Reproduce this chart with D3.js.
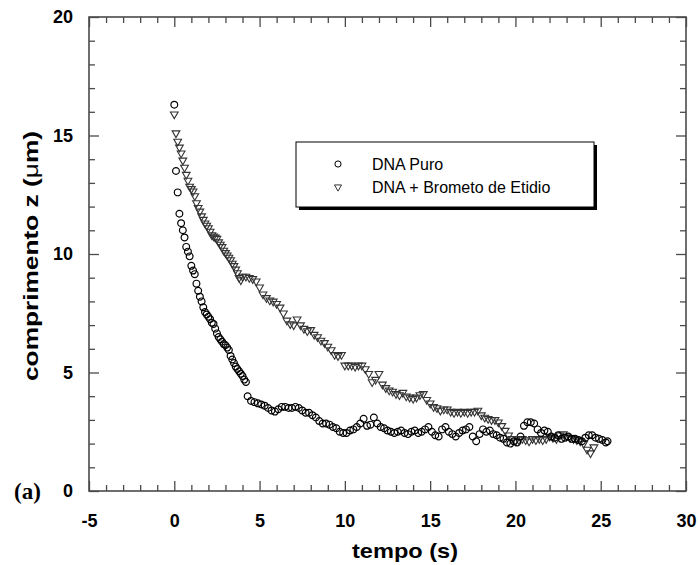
<!DOCTYPE html>
<html>
<head>
<meta charset="utf-8">
<script src="https://cdn.jsdelivr.net/npm/d3@7.9.0/dist/d3.min.js"></script>
<style>
  body { margin: 0; background: #fff; }
  svg { display: block; }
  .tick text { font-family: "Liberation Sans", Arial, sans-serif; font-weight: bold; font-size: 18px; fill: #000; }
  .title { font-family: "Liberation Sans", Arial, sans-serif; font-weight: bold; font-size: 21px; fill: #000; }
  .legend text { font-family: "Liberation Sans", Arial, sans-serif; font-size: 16px; fill: #000; }
</style>
</head>
<body>
<svg id="chart" width="698" height="565"></svg>
<script>
// DNA Puro (circles)
const puroTime = [
  0.0, 0.1, 0.2, 0.3, 0.4, 0.5, 0.6, 0.7, 0.8, 0.9,
  1.0, 1.1, 1.2, 1.3, 1.4, 1.5, 1.6, 1.7, 1.8, 1.9,
  2.0, 2.1, 2.2, 2.3, 2.4, 2.5, 2.6, 2.7, 2.8, 2.9,
  3.0, 3.1, 3.2, 3.3, 3.4, 3.5, 3.6, 3.7, 3.8, 3.9,
  4.0, 4.1, 4.2, 4.3,
  4.5, 4.7, 4.9, 5.1, 5.3, 5.5, 5.7, 5.9, 6.1, 6.3,
  6.5, 6.7, 6.9, 7.1, 7.3, 7.5, 7.7, 7.9, 8.1, 8.3,
  8.5, 8.7, 8.9, 9.1, 9.3, 9.5, 9.7, 9.9, 10.1, 10.3,
  10.5, 10.7, 10.9, 11.1, 11.3, 11.5, 11.7, 11.9, 12.1, 12.3,
  12.5, 12.7, 12.9, 13.1, 13.3, 13.5, 13.7, 13.9, 14.1, 14.3,
  14.5, 14.7, 14.9, 15.1, 15.3, 15.5, 15.7, 15.9, 16.1, 16.3,
  16.5, 16.7, 16.9, 17.1, 17.3, 17.5, 17.7, 17.9, 18.1, 18.3,
  18.5, 18.7, 18.9, 19.1, 19.3, 19.5, 19.7, 19.9, 20.1, 20.3,
  20.5, 20.7, 20.9, 21.1, 21.3, 21.5, 21.7, 21.9, 22.1, 22.3,
  22.5, 22.7, 22.9, 23.1, 23.3, 23.5, 23.7, 23.9, 24.1, 24.3,
  24.5, 24.7, 24.9, 25.1, 25.3, 25.4
];
const puroZ = [
  16.3, 13.5, 12.6, 11.7, 11.3, 11.0, 10.7, 10.3, 10.1, 9.9,
  9.5, 9.3, 9.15, 8.75, 8.45, 8.2, 8.0, 7.75, 7.55, 7.45,
  7.35, 7.25, 7.1, 7.05, 6.85, 6.65, 6.5, 6.4, 6.3, 6.2,
  6.15, 6.05, 5.95, 5.7, 5.55, 5.4, 5.25, 5.15, 5.05, 4.95,
  4.85, 4.7, 4.6, 4.0,
  3.8, 3.75, 3.7, 3.65, 3.6, 3.5, 3.4, 3.35, 3.45, 3.55,
  3.55, 3.5, 3.5, 3.55, 3.5, 3.4, 3.3, 3.3, 3.2, 3.1,
  2.95, 2.85, 2.85, 2.8, 2.7, 2.65, 2.5, 2.45, 2.45, 2.55,
  2.6, 2.7, 2.85, 3.05, 2.75, 2.8, 3.1, 2.85, 2.7, 2.65,
  2.55, 2.5, 2.45, 2.5, 2.55, 2.45, 2.4, 2.5, 2.55, 2.45,
  2.5, 2.6, 2.7, 2.5, 2.35, 2.3, 2.6, 2.7, 2.5, 2.4,
  2.3, 2.45, 2.55, 2.6, 2.7, 2.3, 2.1, 2.4, 2.6, 2.5,
  2.55, 2.4, 2.35, 2.25, 2.2, 2.05, 2.0, 2.1, 2.05, 2.3,
  2.75, 2.9, 2.9, 2.85, 2.6, 2.45, 2.55, 2.5, 2.3, 2.25,
  2.35, 2.2, 2.25, 2.3, 2.2, 2.2, 2.15, 2.1, 2.25, 2.35,
  2.35, 2.25, 2.2, 2.15, 2.05, 2.1
];

// DNA + Brometo de Etidio (triangles)
const etidioTime = [
  0.0, 0.1, 0.2, 0.3, 0.4, 0.5, 0.6, 0.7, 0.8, 0.9,
  1.0, 1.1, 1.2, 1.3, 1.4, 1.5, 1.6, 1.7, 1.8, 1.9,
  2.0, 2.1, 2.2, 2.3, 2.4, 2.5, 2.6, 2.7, 2.8, 2.9,
  3.0, 3.1, 3.2, 3.3, 3.4, 3.5, 3.6, 3.7, 3.8, 3.9,
  4.0, 4.2, 4.4, 4.6, 4.8, 5.0, 5.2, 5.4, 5.6, 5.8,
  6.0, 6.2, 6.4, 6.6, 6.8, 7.0, 7.2, 7.4, 7.6, 7.8,
  8.0, 8.2, 8.4, 8.6, 8.8, 9.0, 9.2, 9.4, 9.6, 9.8,
  10.0, 10.2, 10.4, 10.6, 10.8, 11.0, 11.2, 11.4, 11.6, 11.8,
  12.0, 12.2, 12.4, 12.6, 12.8, 13.0, 13.2, 13.4, 13.6, 13.8,
  14.0, 14.2, 14.4, 14.6, 14.8, 15.0, 15.2, 15.4, 15.6, 15.8,
  16.0, 16.2, 16.4, 16.6, 16.8, 17.0, 17.2, 17.4, 17.6, 17.8,
  18.0, 18.2, 18.4, 18.6, 18.8, 19.0, 19.2, 19.4, 19.6, 19.8,
  20.0, 20.2, 20.4, 20.6, 20.8, 21.0, 21.2, 21.4, 21.6, 21.8,
  22.0, 22.2, 22.4, 22.6, 22.8, 23.0, 23.2, 23.4, 23.6, 23.8,
  24.0, 24.2, 24.4, 24.6
];
const etidioZ = [
  15.9, 15.1, 14.75, 14.5, 14.25, 13.95, 13.65, 13.35, 13.1, 12.85,
  12.75, 12.65, 12.45, 12.15, 11.95, 11.8, 11.6, 11.45, 11.3, 11.2,
  11.1, 10.95, 10.8, 10.75, 10.7, 10.65, 10.5, 10.4, 10.3, 10.15,
  10.05, 9.95, 9.85, 9.75, 9.6, 9.5, 9.35, 9.2, 9.0, 8.9,
  9.05, 9.05, 9.0, 8.95, 8.85, 8.6, 8.3, 8.15, 8.05, 8.0,
  7.9, 7.75, 7.5, 7.2, 7.05, 7.0, 7.25, 7.0, 6.85, 6.75,
  6.8, 6.6, 6.5, 6.35, 6.25, 6.1, 5.95, 5.75, 5.7, 5.75,
  5.3, 5.3, 5.3, 5.25, 5.3, 5.3, 5.15, 4.95, 4.6, 4.7,
  4.95, 4.5, 4.35, 4.25, 4.2, 4.1, 4.05, 4.15, 4.0, 3.95,
  3.9, 3.95, 4.05, 4.1, 3.85, 3.7, 3.55, 3.5, 3.4, 3.45,
  3.45, 3.35, 3.3, 3.35, 3.3, 3.35, 3.3, 3.35, 3.35, 3.4,
  3.2, 3.1, 3.05, 3.0, 3.0, 2.9, 2.75, 2.55, 2.35, 2.2,
  2.1, 2.15, 2.2, 2.15, 2.1, 2.2, 2.15, 2.2, 2.15, 2.2,
  2.3, 2.25, 2.2, 2.35, 2.4, 2.3, 2.25, 2.2, 2.15, 2.1,
  2.0, 1.75, 1.6, 1.85
];

const xTicks = [-5, 0, 5, 10, 15, 20, 25, 30];
const yTicks = [0, 5, 10, 15, 20];
const seriesNames = ["DNA Puro", "DNA + Brometo de Etidio"];

const svg = d3.select("#chart");
const plotLeft = 89, plotRight = 686, plotTop = 17, plotBottom = 491;

const x = d3.scaleLinear().domain([-5, 30]).range([plotLeft, plotRight]);
const y = d3.scaleLinear().domain([0, 20]).range([plotBottom, plotTop]);

const axisColor = "#4a4a4a";
const plain = d => String(d);  // keep ASCII hyphen for "-5"

// minor ticks every 1 unit, major every 5, all pointing inward
const xMinor = d3.range(-5, 31, 1).filter(v => v % 5 !== 0);
const yMinor = d3.range(0, 21, 1).filter(v => v % 5 !== 0);

function styleAxis(g) {
  g.select(".domain").remove();
  g.selectAll(".tick line").attr("stroke", axisColor).attr("stroke-width", 1.3);
}

svg.append("g").attr("transform", `translate(0,${plotBottom})`)
  .call(d3.axisBottom(x).tickValues(xTicks).tickSize(-10).tickPadding(23).tickFormat(plain))
  .call(styleAxis);
svg.append("g").attr("transform", `translate(0,${plotBottom})`)
  .call(d3.axisBottom(x).tickValues(xMinor).tickSize(-6).tickFormat(""))
  .call(styleAxis);
svg.append("g").attr("transform", `translate(0,${plotTop})`)
  .call(d3.axisTop(x).tickValues(xTicks).tickSize(-10).tickFormat(""))
  .call(styleAxis);
svg.append("g").attr("transform", `translate(0,${plotTop})`)
  .call(d3.axisTop(x).tickValues(xMinor).tickSize(-6).tickFormat(""))
  .call(styleAxis);

svg.append("g").attr("transform", `translate(${plotLeft},0)`)
  .call(d3.axisLeft(y).tickValues(yTicks).tickSize(-10).tickPadding(16).tickFormat(plain))
  .call(styleAxis);
svg.append("g").attr("transform", `translate(${plotLeft},0)`)
  .call(d3.axisLeft(y).tickValues(yMinor).tickSize(-6).tickFormat(""))
  .call(styleAxis);
svg.append("g").attr("transform", `translate(${plotRight},0)`)
  .call(d3.axisRight(y).tickValues(yTicks).tickSize(-10).tickFormat(""))
  .call(styleAxis);
svg.append("g").attr("transform", `translate(${plotRight},0)`)
  .call(d3.axisRight(y).tickValues(yMinor).tickSize(-6).tickFormat(""))
  .call(styleAxis);

// frame
svg.append("rect")
  .attr("x", plotLeft).attr("y", plotTop)
  .attr("width", plotRight - plotLeft).attr("height", plotBottom - plotTop)
  .attr("fill", "none").attr("stroke", axisColor).attr("stroke-width", 1.6);

// data
const puro = puroTime.map((t, i) => ({ t, z: puroZ[i] }));
const etidio = etidioTime.map((t, i) => ({ t, z: etidioZ[i] }));

const circle = d3.symbol(d3.symbolCircle, 36);
const tri = d3.symbol(d3.symbolTriangle, 26);

svg.append("g").selectAll("path")
  .data(etidio).join("path")
  .attr("d", tri)
  .attr("transform", d => `translate(${x(d.t)},${y(d.z)}) rotate(180)`)
  .attr("fill", "none").attr("stroke", "#333").attr("stroke-width", 1.1);

svg.append("g").selectAll("path")
  .data(puro).join("path")
  .attr("d", circle)
  .attr("transform", d => `translate(${x(d.t)},${y(d.z)})`)
  .attr("fill", "none").attr("stroke", "#000").attr("stroke-width", 1.2);

// titles
svg.append("text").attr("class", "title")
  .attr("x", 405).attr("y", 558)
  .attr("text-anchor", "middle")
  .attr("font-size", 22)
  .attr("textLength", 106).attr("lengthAdjust", "spacingAndGlyphs")
  .text("tempo (s)");

const yt = svg.append("text").attr("class", "title")
  .attr("transform", `translate(38,256) rotate(-90)`)
  .attr("text-anchor", "middle")
  .attr("textLength", 250).attr("lengthAdjust", "spacingAndGlyphs");
yt.append("tspan").text("comprimento z (");
yt.append("tspan").attr("font-weight", "normal").text("μ");
yt.append("tspan").text("m)");

svg.append("text")
  .attr("x", 14).attr("y", 499)
  .attr("font-family", "'Liberation Serif', 'Times New Roman', serif")
  .attr("font-weight", "bold").attr("font-size", 23)
  .text("(a)");

// legend
const lg = svg.append("g").attr("class", "legend");
lg.append("rect").attr("x", 299).attr("y", 145).attr("width", 298).attr("height", 65).attr("fill", "#000");
lg.append("rect").attr("x", 296).attr("y", 142).attr("width", 298).attr("height", 65)
  .attr("fill", "#fff").attr("stroke", "#000").attr("stroke-width", 1);

const legendSymbols = [d3.symbol(d3.symbolCircle, 30), d3.symbol(d3.symbolTriangle, 22)];
seriesNames.forEach((name, i) => {
  const ly = 164 + i * 23;
  lg.append("path")
    .attr("d", legendSymbols[i])
    .attr("transform", `translate(338,${ly})` + (i === 1 ? " rotate(180)" : ""))
    .attr("fill", "none").attr("stroke", i === 1 ? "#333" : "#000");
  lg.append("text").attr("x", 372).attr("y", ly + 6).text(name);
});
</script>
</body>
</html>
